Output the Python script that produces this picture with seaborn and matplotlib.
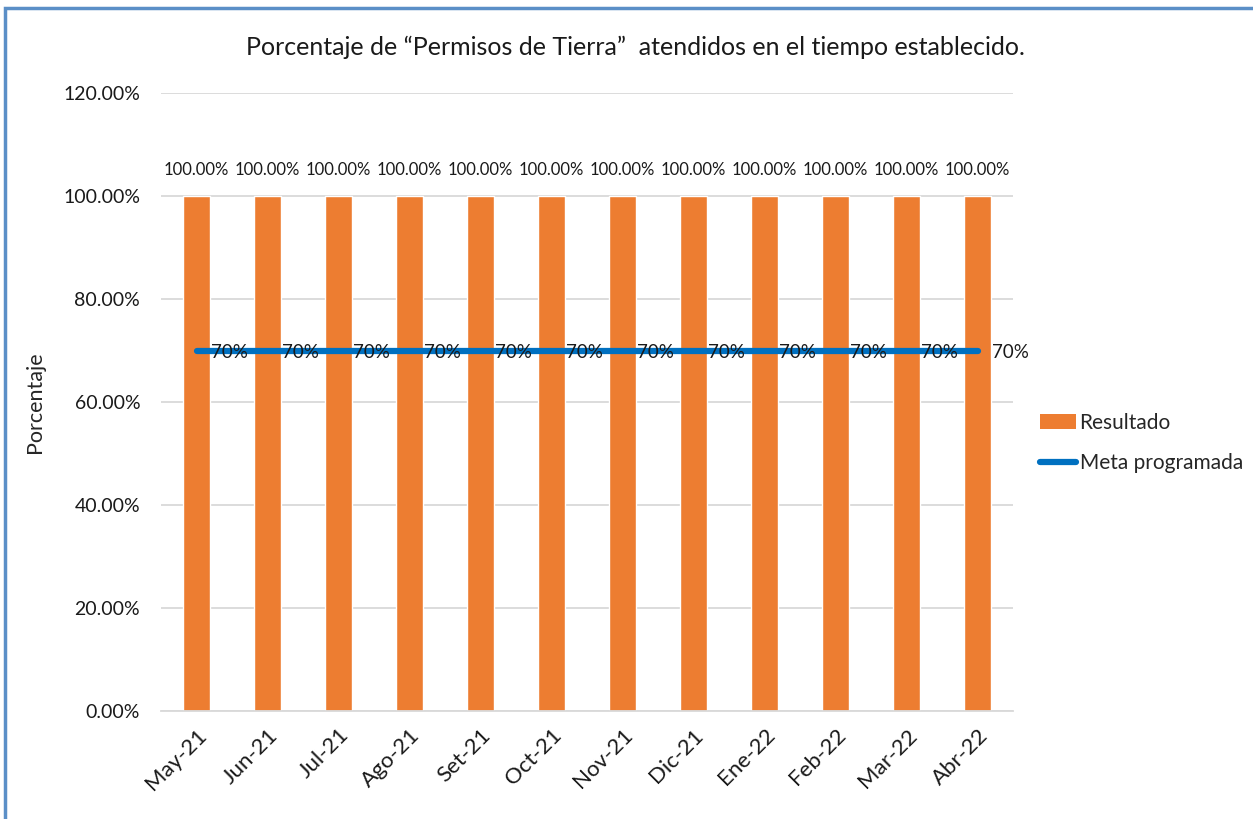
import matplotlib
matplotlib.use("Agg")
import matplotlib.pyplot as plt
import seaborn as sns
import pandas as pd
from matplotlib.patches import Rectangle, Patch
from matplotlib.lines import Line2D
from matplotlib.ticker import FuncFormatter

# Data
meses = ["May-21", "Jun-21", "Jul-21", "Ago-21", "Set-21", "Oct-21",
         "Nov-21", "Dic-21", "Ene-22", "Feb-22", "Mar-22", "Abr-22"]
resultado = [1.0, 1.0, 1.0, 1.0, 1.0, 1.0, 1.0, 1.0, 1.0, 1.0, 1.0, 1.0]
meta = [0.70, 0.70, 0.70, 0.70, 0.70, 0.70, 0.70, 0.70, 0.70, 0.70, 0.70, 0.70]

df = pd.DataFrame({"mes": meses, "resultado": resultado, "meta": meta})

sns.set_style("white")
plt.rcParams["font.family"] = ["Lato", "DejaVu Sans"]

naranja = "#ED7D31"
azul = "#0070C0"

fig = plt.figure(figsize=(12.53, 8.19), dpi=100)
ax = fig.add_axes([0.1285, 0.1319, 0.68, 0.7545])

# Bars
sns.barplot(data=df, x="mes", y="resultado", color=naranja, width=0.39,
            saturation=1, ax=ax, zorder=2)
# Target line
sns.lineplot(data=df, x="mes", y="meta", color=azul, linewidth=4.5,
             sort=False, ax=ax, zorder=3)

ax.set_ylim(0, 1.2)
ax.set_xlim(-0.5, len(meses) - 0.5)
ax.set_yticks([0, 0.2, 0.4, 0.6, 0.8, 1.0, 1.2])
ax.yaxis.set_major_formatter(FuncFormatter(lambda v, p: f"{v*100:.2f}%"))
ax.grid(axis="y", color="#d9d9d9", linewidth=1.3, zorder=0)
ax.set_axisbelow(True)
for s in ["top", "right", "left"]:
    ax.spines[s].set_visible(False)
ax.spines["bottom"].set_color("#d9d9d9")
ax.spines["bottom"].set_linewidth(1.3)
ax.tick_params(axis="y", labelsize=14, length=0, pad=15, colors="#1a1a1a")
ax.tick_params(axis="x", labelsize=16, length=0, pad=10, colors="#1a1a1a")
plt.setp(ax.get_xticklabels(), rotation=45, ha="right", rotation_mode="anchor")

ax.set_xlabel("")
ax.set_ylabel("Porcentaje", fontsize=15.5)
ax.yaxis.set_label_coords(-0.136, 0.5)

# Data labels
for i, v in enumerate(resultado):
    ax.text(i, v + 0.035, f"{v*100:.2f}%", ha="center", va="bottom",
            fontsize=12, color="#1a1a1a")
for i, v in enumerate(meta):
    ax.text(i + 0.2, v - 0.003, f"{v*100:.0f}%", ha="left", va="center",
            fontsize=13.5, color="#1a1a1a", zorder=4)

fig.text(0.507, 0.942, "Porcentaje de “Permisos de Tierra”  atendidos en el tiempo establecido.",
         ha="center", va="center", fontsize=18, color="#1a1a1a")

handles = [Patch(facecolor=naranja, edgecolor="none"),
           Line2D([0], [0], color=azul, linewidth=4.5)]
fig.legend(handles, ["Resultado", "Meta programada"], loc="center left",
           bbox_to_anchor=(0.830, 0.459), frameon=False, fontsize=15,
           handlelength=1.75, handletextpad=0.15, labelspacing=1.0,
           borderpad=0, borderaxespad=0)

# Outer frame
fig.patches.append(Rectangle((5 / 1253, -0.05), 1.2, 1 - 8 / 819 + 0.05,
                             transform=fig.transFigure, fill=False,
                             edgecolor="#5b8fc7", linewidth=2.5))

fig.savefig("out.png", dpi=100)
